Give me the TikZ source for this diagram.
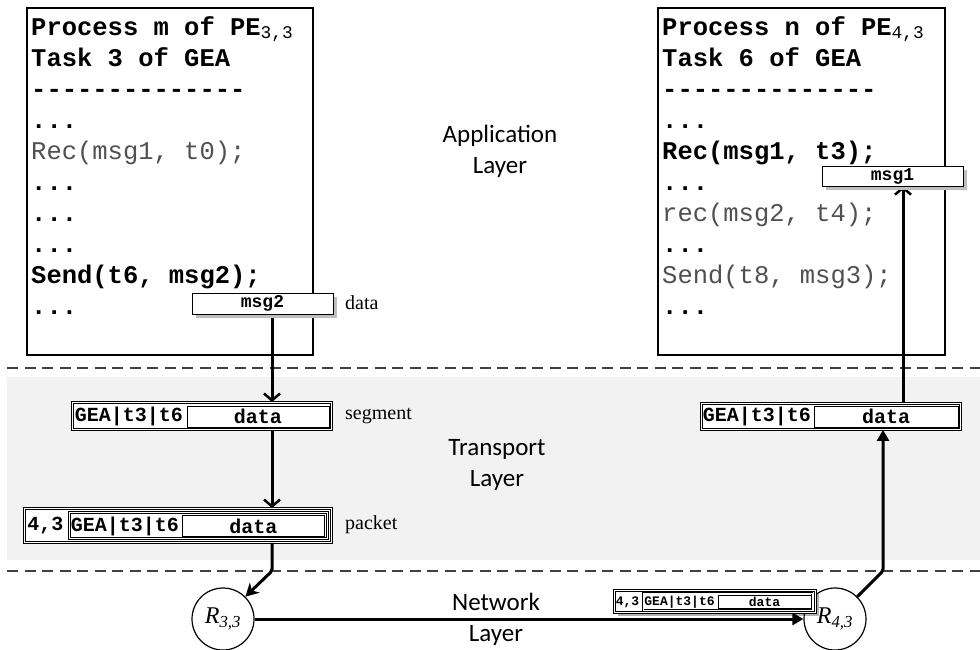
\documentclass[tikz,border=0pt]{standalone}
\usepackage{fontspec}
\setmainfont{Liberation Serif}
\setmonofont{Liberation Mono}
\newfontfamily\layerfont{Carlito}
\usetikzlibrary{arrows.meta,shadows}

\definecolor{bandgray}{HTML}{F2F2F2}
\definecolor{dashgray}{HTML}{404040}
\definecolor{codegray}{HTML}{505050}
\definecolor{shadegray}{HTML}{BFBFBF}

\newcommand\dashrow{-{}-{}-{}-{}-{}-{}-{}-{}-{}-{}-{}-{}-{}-}

\begin{document}
\begin{tikzpicture}[x=1pt,y=-1pt,
  codebox/.style={draw, line width=1.3pt, fill=white, inner sep=0pt},
  code/.style={anchor=base west, inner sep=0pt, text=codegray,
    font=\fontsize{25.5}{31}\selectfont\ttfamily},
  codeb/.style={anchor=base west, inner sep=0pt, text=black,
    font=\fontsize{25.5}{31}\selectfont\ttfamily\bfseries},
  msgbox/.style={draw, line width=1pt, fill=white, inner sep=0pt,
    font=\fontsize{18}{20}\selectfont\ttfamily\bfseries,
    drop shadow={shadow xshift=4pt, shadow yshift=-4pt, fill=shadegray, opacity=1}},
  dbox/.style={draw, double, line width=0.8pt, double distance=1.4pt, fill=white, inner sep=0pt},
  sbox/.style={draw, line width=1pt, fill=white, inner sep=0pt},
  dboxs/.style={draw, double, line width=0.6pt, double distance=1pt, fill=white, inner sep=0pt},
  hdr/.style={inner sep=0pt, font=\fontsize{20}{22}\selectfont\ttfamily\bfseries},
  hdrs/.style={inner sep=0pt, font=\fontsize{13}{14}\selectfont\ttfamily\bfseries},
  tag/.style={anchor=west, inner sep=0pt, font=\fontsize{20}{22}\selectfont},
  layer/.style={align=center, inner sep=0pt, font=\fontsize{25}{31}\selectfont\layerfont},
  router/.style={circle, draw, line width=1.2pt, fill=white, minimum size=62pt, inner sep=0pt,
    font=\fontsize{24}{26}\selectfont\itshape},
  sepline/.style={draw=dashgray, line width=2pt, dash pattern=on 11pt off 6.5pt},
  flow/.style={line width=3pt, rounded corners=2pt},
  barb/.style={flow, -{Straight Barb[length=7pt, width=16pt, line width=2.5pt]}},
  solid tip/.style={flow, -{Triangle[length=11pt, width=12pt]}},
  stealth tip/.style={flow, -{Stealth[length=13pt, width=14pt, inset=4pt]}}
]
\useasboundingbox (0,0) rectangle (980,649);

% layer background and separators
\fill[bandgray] (7,377) rectangle (980,560);
\draw[sepline] (7,368) -- (980,368);
\draw[sepline] (7,571) -- (980,571);

% layer names
\node[layer] (app) at (500,151) {Application\\Layer};
\node[layer] (tra) at (497,465) {Transport\\Layer};
\node[layer] (net) at (496,619.5) {Network\\Layer};

% sender process
\node[codebox, minimum width=286pt, minimum height=347pt] (procL) at (170,181.5) {};
\node[codeb] (l0) at (31,35)  {Process m of PE\textsubscript{\mdseries 3,3}};
\node[codeb] (l1) at (31,66)  {Task 3 of GEA};
\node[codeb] (l2) at (31,97)  {\dashrow};
\node[codeb] (l3) at (31,128) {...};
\node[code]  (l4) at (31,159) {Rec(msg1, t0);};
\node[codeb] (l5) at (31,190) {...};
\node[codeb] (l6) at (31,221) {...};
\node[codeb] (l7) at (31,252) {...};
\node[codeb] (l8) at (31,283) {Send(t6, msg2);};
\node[codeb] (l9) at (31,314) {...};

% receiver process
\node[codebox, minimum width=287pt, minimum height=347pt] (procR) at (801.5,181.5) {};
\node[codeb] (r0) at (662,35)  {Process n of PE\textsubscript{\mdseries 4,3}};
\node[codeb] (r1) at (662,66)  {Task 6 of GEA};
\node[codeb] (r2) at (662,97)  {\dashrow};
\node[codeb] (r3) at (662,128) {...};
\node[codeb] (r4) at (662,159) {Rec(msg1, t3);};
\node[codeb] (r5) at (662,190) {...};
\node[code]  (r6) at (662,221) {rec(msg2, t4);};
\node[codeb] (r7) at (662,252) {...};
\node[code]  (r8) at (662,283) {Send(t8, msg3);};
\node[codeb] (r9) at (662,314) {...};

% routers
\node[router] (R33) at (223,619) {R\textsubscript{3,3}};
\node[router] (R43) at (835,619) {R\textsubscript{4,3}};

% segment on the sending side
\node[dbox, minimum width=259pt, minimum height=27pt] (segL) at (202,416) {};
\node[sbox, minimum width=142pt, minimum height=21pt] (segLd) at (258,416.5) {};
\node[hdr] at (129,416.5) {GEA|t3|t6};
\node[hdr] at (258,416.5) {data};
\node[tag] (tagseg) at (345,416) {segment};

% packet on the sending side
\node[dbox, minimum width=307pt, minimum height=34pt] (pkL) at (178,525.5) {};
\node[dbox, minimum width=258pt, minimum height=26pt] (pkLs) at (198.5,525.5) {};
\node[sbox, minimum width=142pt, minimum height=21pt] (pkLd) at (253.5,526) {};
\node[hdr] at (45.5,526) {4,3};
\node[hdr] at (125,526) {GEA|t3|t6};
\node[hdr] at (253.5,526) {data};
\node[tag] (tagpk) at (345,525) {packet};

% segment on the receiving side
\node[dbox, minimum width=259pt, minimum height=26pt] (segR) at (831,416.5) {};
\node[sbox, minimum width=144pt, minimum height=21pt] (segRd) at (886,416.5) {};
\node[hdr] at (757,416.5) {GEA|t3|t6};
\node[hdr] at (886,416.5) {data};

% bend points and vertical lanes of the flow
\coordinate (laneL) at (272,0);
\coordinate (laneR) at (883,0);
\coordinate (laneM) at (903,0);
\coordinate (bendL) at (272,571);
\coordinate (bendR) at (883,571);

% data flow
\draw[barb] (laneL |- 0,314) -- (laneL |- segL.north);
\draw[barb] (laneL |- segL.south) -- (laneL |- pkL.north);
\draw[stealth tip] (laneL |- pkL.south) -- (bendL) -- (R33.north east);
\draw[solid tip] (R33.east) -- (R43.west);
\draw[solid tip] (R43.north east) -- (bendR) -- (laneR |- segR.south);
\draw[barb] (laneM |- segR.north) -- (laneM |- 0,186);

% application messages
\node[msgbox, minimum width=141pt, minimum height=21pt] (msg2) at (262.5,303.5) {msg2};
\node[tag] (tagdata) at (345,303) {data};
\node[msgbox, minimum width=141pt, minimum height=20pt] (msg1) at (892.5,176) {msg1};

% packet arriving at the receiving router
\node[dboxs, minimum width=201pt, minimum height=22pt,
  drop shadow={shadow xshift=3pt, shadow yshift=-3pt, fill=black, opacity=0.3}] (pkR) at (715,601.5) {};
\node[dboxs, minimum width=169pt, minimum height=17pt] (pkRs) at (727.5,601.5) {};
\node[sbox, line width=0.8pt, minimum width=93pt, minimum height=13pt] (pkRd) at (764.5,601.5) {};
\node[hdrs] at (627.5,602) {4,3};
\node[hdrs] at (679.5,602) {GEA|t3|t6};
\node[hdrs] at (764.5,602) {data};
\end{tikzpicture}
\end{document}
